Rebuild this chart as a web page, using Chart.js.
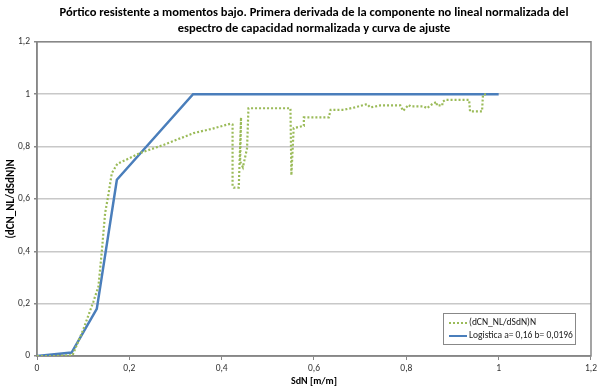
<!DOCTYPE html>
<html>
<head>
<meta charset="utf-8">
<script src="https://cdn.jsdelivr.net/npm/chart.js@4"></script>
<style>
html,body{margin:0;padding:0;background:#fff;}
#wrap{width:600px;height:389px;position:relative;}
</style>
</head>
<body>
<div id="wrap"><canvas id="c" width="600" height="389"></canvas></div>
<script>
// ---- data ----
const titleLines = ["Pórtico resistente a momentos bajo. Primera derivada de la componente no lineal normalizada del",
                    "espectro de capacidad normalizada y curva de ajuste"];
const xTitle = "SdN [m/m]";
const yTitle = "(dCN_NL/dSdN)N";
const seriesNames = ["(dCN_NL/dSdN)N", "Logistica a= 0,16 b= 0,0196"];
const xTicks = [0, 0.2, 0.4, 0.6, 0.8, 1, 1.2];
const yTicks = [0, 0.2, 0.4, 0.6, 0.8, 1, 1.2];

const greenX = [0, 0.04, 0.077, 0.1, 0.122, 0.133, 0.14, 0.1475, 0.155, 0.162, 0.174, 0.2, 0.223, 0.274, 0.339, 0.38, 0.419,
  0.4236, 0.4236, 0.426, 0.437, 0.442, 0.44, 0.446, 0.455, 0.458, 0.549, 0.551, 0.556, 0.578, 0.578, 0.632, 0.636, 0.664,
  0.69, 0.715, 0.722, 0.744, 0.787, 0.793, 0.805, 0.809, 0.838, 0.845, 0.852, 0.86, 0.866, 0.866, 0.878, 0.878, 0.885,
  0.936, 0.938, 0.964, 0.966, 0.975];
const greenY = [0, 0, 0.003, 0.1, 0.207, 0.265, 0.392, 0.545, 0.62, 0.698, 0.734, 0.755, 0.775, 0.806, 0.851, 0.868, 0.887,
  0.884, 0.647, 0.643, 0.643, 0.911, 0.742, 0.721, 0.793, 0.946, 0.946, 0.69, 0.87, 0.879, 0.911, 0.911, 0.94, 0.94,
  0.95, 0.962, 0.949, 0.957, 0.957, 0.936, 0.959, 0.953, 0.953, 0.946, 0.957, 0.966, 0.97, 0.957, 0.957, 0.97, 0.978,
  0.978, 0.934, 0.934, 0.998, 1.0];

const blueX = [0, 0.075, 0.1295, 0.173, 0.338, 1.0];
const blueY = [0, 0.013, 0.18, 0.673, 1.0, 1.0];

const toPts = (xs, ys) => xs.map((x, i) => ({x: x, y: ys[i]}));
const fmt = v => String(Math.round(v * 10) / 10).replace('.', ',');

const FONT = "Carlito, Lato, 'Liberation Sans', sans-serif";
const GREEN = '#9bbb59';
const BLUE = '#4a7ebb';

const frame = {
  id: 'frame',
  beforeDatasetsDraw(chart) {
    const a = chart.chartArea, ctx = chart.ctx;
    ctx.save();
    ctx.strokeStyle = '#878787';
    ctx.lineWidth = 1.5;
    ctx.strokeRect(a.left, a.top, a.right - a.left, a.bottom - a.top);
    ctx.restore();
  }
};

const boxLegend = {
  id: 'boxLegend',
  afterDraw(chart) {
    const ctx = chart.ctx;
    const x0 = 443, y0 = 313, w = 132, h = 31;
    ctx.save();
    ctx.fillStyle = '#fff';
    ctx.fillRect(x0, y0, w, h);
    ctx.strokeStyle = '#888';
    ctx.lineWidth = 1;
    ctx.strokeRect(x0 + 0.5, y0 + 0.5, w, h);
    const rows = [{c: GREEN, dash: [2, 2], y: y0 + 10}, {c: BLUE, dash: [], y: y0 + 23}];
    rows.forEach((r, i) => {
      ctx.beginPath();
      ctx.setLineDash(r.dash);
      ctx.strokeStyle = r.c;
      ctx.lineWidth = 2;
      ctx.moveTo(x0 + 6, r.y);
      ctx.lineTo(x0 + 24, r.y);
      ctx.stroke();
      ctx.setLineDash([]);
      ctx.fillStyle = '#222';
      ctx.font = "9.5px " + FONT;
      ctx.textBaseline = 'middle';
      ctx.textAlign = 'left';
      ctx.fillText(seriesNames[i], x0 + 26, r.y);
    });
    ctx.restore();
  }
};

new Chart(document.getElementById('c'), {
  type: 'scatter',
  data: {
    datasets: [
      {label: seriesNames[0], data: toPts(greenX, greenY), showLine: true, borderColor: GREEN, borderWidth: 2.2,
       borderDash: [2, 2], pointRadius: 0, tension: 0, fill: false},
      {label: seriesNames[1], data: toPts(blueX, blueY), showLine: true, borderColor: BLUE, borderWidth: 2.5,
       pointRadius: 0, tension: 0, fill: false}
    ]
  },
  options: {
    responsive: false,
    animation: false,
    devicePixelRatio: 1,
    layout: {padding: {left: 0, right: 9, top: 0, bottom: 0}},
    plugins: {
      legend: {display: false},
      tooltip: {enabled: false},
      title: {
        display: true, text: titleLines, fullSize: false, color: '#000',
        font: {family: FONT, size: 12.5, weight: 'bold', lineHeight: 1.35},
        padding: {top: 4, bottom: 4}
      }
    },
    scales: {
      x: {
        type: 'linear', min: 0, max: 1.2,
        afterBuildTicks: s => { s.ticks = xTicks.map(v => ({value: v})); },
        afterFit: s => { s.height = 33; },
        ticks: {callback: v => fmt(v), color: '#333', font: {family: FONT, size: 9.5}, padding: 3, maxRotation: 0},
        grid: {drawOnChartArea: false, drawTicks: true, tickLength: 4, tickColor: '#878787'},
        border: {color: '#878787', width: 1.5},
        title: {display: true, text: xTitle, color: '#000', font: {family: FONT, size: 10, weight: 'bold'},
                padding: {top: 0, bottom: 2}}
      },
      y: {
        type: 'linear', min: 0, max: 1.2,
        afterBuildTicks: s => { s.ticks = yTicks.map(v => ({value: v})); },
        afterFit: s => { s.width = 37; },
        ticks: {callback: v => fmt(v), color: '#333', font: {family: FONT, size: 9.5}, padding: 4},
        grid: {color: '#c8c8c8', lineWidth: 1.5, drawTicks: true, tickLength: 3, tickColor: '#878787'},
        border: {color: '#878787', width: 1.5},
        title: {display: true, text: yTitle, color: '#000', font: {family: FONT, size: 11, weight: 'bold'},
                padding: {top: 5, bottom: 0}}
      }
    }
  },
  plugins: [frame, boxLegend]
});
</script>
</body>
</html>
